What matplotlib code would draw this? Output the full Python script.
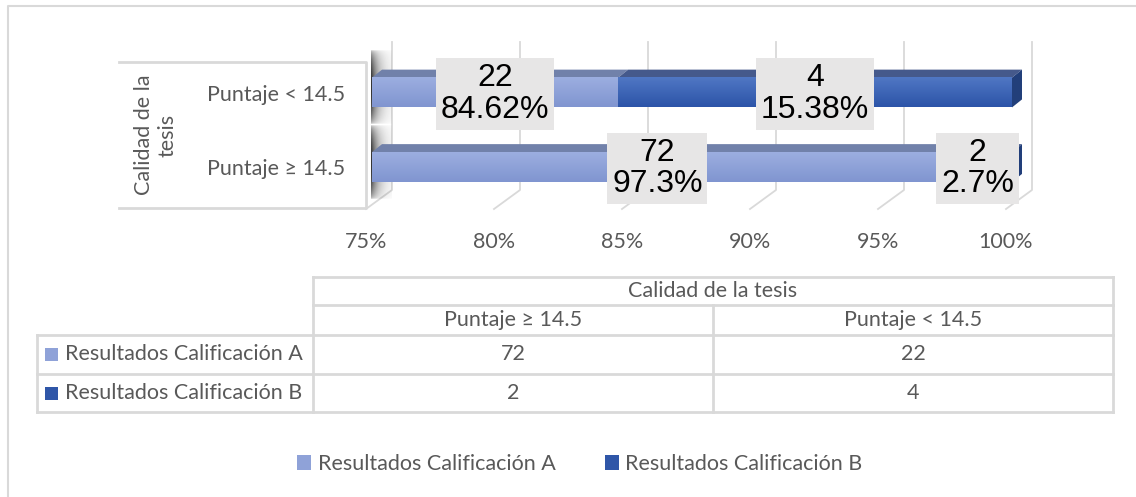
import numpy as np
import matplotlib
matplotlib.use('Agg')
import matplotlib.pyplot as plt
from matplotlib.patches import Polygon, Rectangle
from matplotlib.colors import LinearSegmentedColormap
from matplotlib.transforms import ScaledTranslation

# data
categories = ['Puntaje ≥ 14.5', 'Puntaje < 14.5']
series_names = ['Resultados Calificación A', 'Resultados Calificación B']
calif_a = [72, 22]
calif_b = [2, 4]
axis_title = 'Calidad de la tesis'
x_ticks = [0.75, 0.80, 0.85, 0.90, 0.95, 1.00]

plt.rcParams['font.family'] = ['Lato', 'DejaVu Sans']
TXT = '#595959'
GRID = '#d9d9d9'

# colours: (front top, front bottom, top face, legend)
col_a = ('#9caee0', '#8095d0', '#7181aa', '#8fa2d8')
col_b = ('#5077c4', '#2c54a8', '#45598b', '#2f56a8')
end_b = '#223f7a'

W, H = 1136, 497
fig = plt.figure(figsize=(W / 100, H / 100), dpi=100)

# background axes in pixel coords (y down) for 3d decoration and the data table
bg = fig.add_axes([0, 0, 1, 1], zorder=0)
bg.set_xlim(0, W)
bg.set_ylim(H, 0)
bg.axis('off')

ax = fig.add_axes([372 / W, 1 - 208 / H, 640 / W, 168 / H], zorder=1)
ax.patch.set_visible(False)
ax.set_xlim(0.75, 1.0)
ax.set_ylim(-0.55, 1.705)
for s in ax.spines.values():
    s.set_visible(False)


def px(x, y):
    d = ax.transData.transform((x, y))
    return d[0], H - d[1]


fs = 15.5

# chart border (only left and top visible)
bg.plot([8, 8, W], [H, 6, 6], color=GRID, lw=1.5)

# back wall gridlines with floor diagonal
for t in x_ticks:
    bx, _ = px(t, 0)
    bg.plot([bx + 20, bx + 20, bx - 6], [42, 190, 209], color=GRID, lw=1.3, zorder=1)

# box around the category axis
bg.plot([119, 366, 366, 119], [62, 62, 208, 208], color=GRID, lw=2, zorder=1)
parts = axis_title.rsplit(' ', 1)
bg.text(156, 135, '\n'.join(parts), rotation=90, ha='center', va='center',
        multialignment='center', fontsize=fs, color=TXT, linespacing=1.2)

ax.set_yticks(range(len(categories)), categories)
ax.tick_params(axis='y', length=0, pad=19, labelsize=fs, labelcolor=TXT)
ax.set_xticks(x_ticks, [f'{int(round(t * 100))}%' for t in x_ticks])
ax.tick_params(axis='x', length=0, pad=17, labelsize=fs, labelcolor=TXT)
for lbl in ax.get_xticklabels():
    lbl.set_transform(lbl.get_transform() + ScaledTranslation(-6 / 100, 0, fig.dpi_scale_trans))

# bars
a = np.array(calif_a, dtype=float)
b = np.array(calif_b, dtype=float)
tot = a + b
pa = a / tot
pb = b / tot
yy = np.arange(len(categories))
h = 0.4
dx, dy = 10, 8
x0 = ax.get_xlim()[0]

# dark smear at the left ends of the bars
sh = np.zeros((60, 24, 4))
hx = np.exp(-np.linspace(0, 2.6, 24))
vy = np.sin(np.linspace(0, np.pi, 60)) ** 0.4
sh[..., 3] = 0.95 * vy[:, None] * hx[None, :]
sh[..., :3] = 0.15
for yi in yy:
    _, yt = px(x0, yi + h / 2)
    _, yb = px(x0, yi - h / 2)
    bg.imshow(sh, extent=(371, 392, yb + 18, yt - 28), aspect='auto', zorder=2,
              interpolation='bilinear')

segments = [(pa * 0, pa, a, col_a), (pa, pb, b, col_b)]
for k, (left, width, counts, col) in enumerate(segments):
    ax.barh(yy, width, left=left, height=h, color=col[1], zorder=2)
    cmap = LinearSegmentedColormap.from_list('g', [col[0], col[1]])
    grad = np.linspace(0, 1, 64).reshape(-1, 1)
    for yi, l, w, n in zip(yy, left, width, counts):
        lv = max(l, x0)
        r = l + w
        ax.imshow(grad, extent=(lv, r, yi - h / 2, yi + h / 2), cmap=cmap,
                  aspect='auto', zorder=3, interpolation='bilinear')
        xl, yt = px(lv, yi + h / 2)
        xr, yb = px(r, yi - h / 2)
        bg.add_patch(Polygon([(xl, yt), (xr, yt), (xr + dx, yt - dy), (xl + dx, yt - dy)],
                             closed=True, fc=col[2], ec='none', zorder=3))
        if k == len(segments) - 1:
            bg.add_patch(Polygon([(xr, yt), (xr + dx, yt - dy), (xr + dx, yb - dy), (xr, yb)],
                                 closed=True, fc=end_b, ec='none', zorder=3))
        pct = round(w * 100, 2)
        ax.text((lv + r) / 2, yi - 0.02, f'{int(n)}\n{pct:g}%', ha='center', va='center',
                fontsize=23, family=['Liberation Sans', 'DejaVu Sans'], color='black',
                linespacing=1.08, zorder=6,
                bbox=dict(boxstyle='square,pad=0.15', fc='#e7e6e6', ec='none'))

ax.set_xlim(0.75, 1.0)
ax.set_ylim(-0.55, 1.705)

# data table
col_x = [37, 313, 713, 1113]
row_y = [277, 305, 335, 374, 412]
lk = dict(color=GRID, lw=2, zorder=1)
bg.plot([col_x[1], col_x[3]], [row_y[0]] * 2, **lk)
bg.plot([col_x[1], col_x[3]], [row_y[1]] * 2, **lk)
for ry in row_y[2:]:
    bg.plot([col_x[0], col_x[3]], [ry] * 2, **lk)
bg.plot([col_x[0]] * 2, [row_y[2], row_y[4]], **lk)
bg.plot([col_x[1]] * 2, [row_y[0], row_y[4]], **lk)
bg.plot([col_x[2]] * 2, [row_y[1], row_y[4]], **lk)
bg.plot([col_x[3]] * 2, [row_y[0], row_y[4]], **lk)

bg.text((col_x[1] + col_x[3]) / 2, (row_y[0] + row_y[1]) / 2, axis_title,
        ha='center', va='center', fontsize=fs, color=TXT)
for j, cat in enumerate(categories):
    cx = (col_x[j + 1] + col_x[j + 2]) / 2
    bg.text(cx, (row_y[1] + row_y[2]) / 2, cat, ha='center', va='center', fontsize=fs, color=TXT)
    for i, vals in enumerate([calif_a, calif_b]):
        bg.text(cx, (row_y[i + 2] + row_y[i + 3]) / 2, str(vals[j]), ha='center', va='center',
                fontsize=fs, color=TXT)
for i, (name, col) in enumerate(zip(series_names, [col_a, col_b])):
    cy = (row_y[i + 2] + row_y[i + 3]) / 2
    bg.add_patch(Rectangle((45, cy - 6.5), 13, 13, fc=col[3], ec='none'))
    bg.text(65, cy, name, ha='left', va='center', fontsize=fs, color=TXT)

# legend
handles = [Rectangle((0, 0), 1, 1, fc=c[3], ec='none') for c in (col_a, col_b)]
fig.legend(handles, series_names, loc='center', bbox_to_anchor=(580 / W, 1 - 464 / H),
           ncol=2, frameon=False, handlelength=0.65, handleheight=0.65, handletextpad=0.3,
           columnspacing=2.3, fontsize=fs, labelcolor=TXT)

fig.savefig('out.png', dpi=100)
